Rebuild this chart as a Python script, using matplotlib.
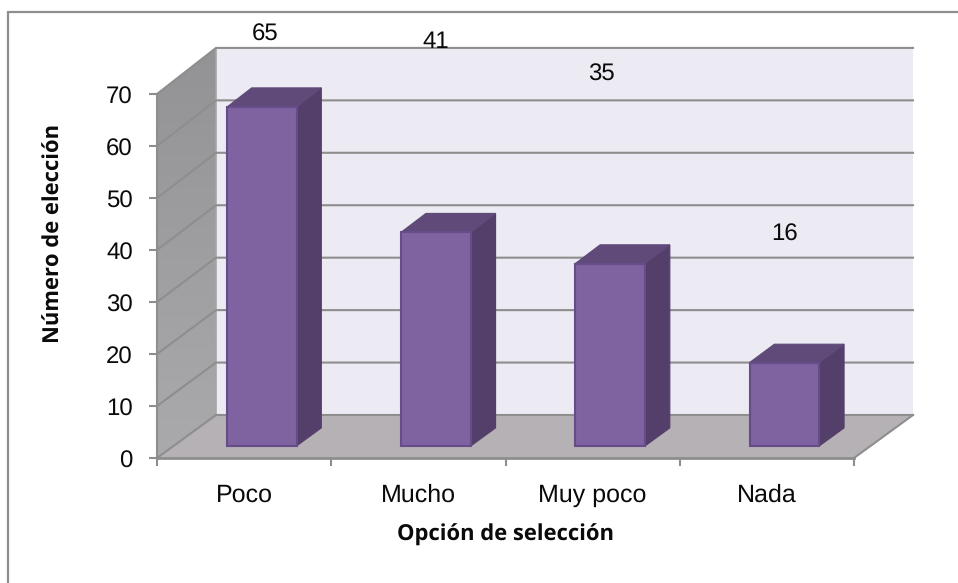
import matplotlib
matplotlib.use('Agg')
import matplotlib.pyplot as plt
import numpy as np
from matplotlib.colors import LinearSegmentedColormap
from matplotlib.patches import Polygon
from matplotlib.lines import Line2D
from matplotlib.transforms import ScaledTranslation

plt.rcParams['text.hinting'] = 'none'
plt.rcParams['text.hinting_factor'] = 1

categories = ['Poco', 'Mucho', 'Muy poco', 'Nada']
values = [65, 41, 35, 16]
y_ticks = [0, 10, 20, 30, 40, 50, 60, 70]

W, H = 958, 583

# Front plane of the 3D box, in pixels from the top left
LEFT, RIGHT, TOP, BOTTOM = 157, 854, 94, 458
DEPTH_X, DEPTH_Y = 59, 43
BACK_SCALE = 1.0085  # the back wall is a bit taller than the front plane
BAR_W = 0.4
BAR_D0, BAR_D1 = 0.28, 0.70
BAR_SHIFT = 0.006

C_BACK = '#ECEAF2'
C_FLOOR = '#B5B1B5'
C_GRID = '#8E8E8E'
C_FRONT = '#7F62A0'
C_EDGE = '#664C88'
C_TOP = '#5F4A7A'
C_SIDE = '#533F69'
C_TEXT = '#0A0A0A'

# label shift from the top of each bar, in pixels (the original labels float)
label_dx = [21, 17, 9, 18]
label_dy = [85, 203, 201, 140]

fig = plt.figure(figsize=(W / 100, H / 100), dpi=100)
ax = fig.add_axes([LEFT / W, 1 - BOTTOM / H, (RIGHT - LEFT) / W, (BOTTOM - TOP) / H])
n = len(categories)
ymax = y_ticks[-1]
ax.patch.set_visible(False)
for s in ax.spines.values():
    s.set_visible(False)

dx = DEPTH_X / ((RIGHT - LEFT) / n)
dy = DEPTH_Y / ((BOTTOM - TOP) / ymax)


def proj(x, y, d):
    return (x + d * dx, y * (1 + d * (BACK_SCALE - 1)) + d * dy)


def face(points, **kw):
    p = Polygon([proj(*q) for q in points], closed=True, clip_on=False, **kw)
    ax.add_patch(p)
    return p


# Walls and floor
face([(0, 0, 1), (n, 0, 1), (n, ymax, 1), (0, ymax, 1)], fc=C_BACK, ec='none', zorder=1)
wall = face([(0, 0, 0), (0, 0, 1), (0, ymax, 1), (0, ymax, 0)], fc='none', ec='none', zorder=1)
wall_cmap = LinearSegmentedColormap.from_list('wall', ['#AAA9AB', '#939295'])
top_x, top_y = proj(0, ymax, 1)
img = ax.imshow(np.linspace(1, 0, 64).reshape(-1, 1), cmap=wall_cmap, aspect='auto',
                extent=(0, top_x, 0, top_y), zorder=1)
img.set_clip_box(fig.bbox)
img.set_clip_path(wall)
face([(0, 0, 0), (n, 0, 0), (n, 0, 1), (0, 0, 1)], fc=C_FLOOR, ec='none', zorder=2)

ax.set_xlim(0, n)
ax.set_ylim(0, ymax)

# Gridlines on the left wall and the back wall
for t in y_ticks:
    x0, y0 = proj(0, t, 0)
    x1, y1 = proj(0, t, 1)
    x2, y2 = proj(n, t, 1)
    ax.plot([x0, x1, x2], [y0, y1, y2], color=C_GRID, lw=1.5, clip_on=False, zorder=2.5,
            solid_joinstyle='miter')

# Floor edges and the axis lines
x1, y1 = proj(n, 0, 1)
ax.plot([n, x1], [0, y1], color=C_GRID, lw=1.5, clip_on=False, zorder=3)
ax.plot([0, n], [0, 0], color=C_GRID, lw=2, clip_on=False, zorder=3)
ax.plot([0, 0], [0, ymax], color=C_GRID, lw=1.5, clip_on=False, zorder=3)
x1, y1 = proj(0, 0, 1)
x2, y2 = proj(0, ymax, 1)
ax.plot([x1, x2], [y1, y2], color='#A6A6A6', lw=1.2, clip_on=False, zorder=2.4)

# Bars
for i, v in enumerate(values):
    xa = i + 0.5 - BAR_W / 2 + BAR_SHIFT
    xb = i + 0.5 + BAR_W / 2 + BAR_SHIFT
    face([(xb, 0, BAR_D0), (xb, 0, BAR_D1), (xb, v, BAR_D1), (xb, v, BAR_D0)],
         fc=C_SIDE, ec=C_SIDE, lw=0.8, zorder=4)
    face([(xa, v, BAR_D0), (xb, v, BAR_D0), (xb, v, BAR_D1), (xa, v, BAR_D1)],
         fc=C_TOP, ec=C_TOP, lw=0.8, zorder=4)
    face([(xa, 0, BAR_D0), (xb, 0, BAR_D0), (xb, v, BAR_D0), (xa, v, BAR_D0)],
         fc=C_FRONT, ec=C_EDGE, lw=1.5, zorder=5)
    # Data label
    ax.annotate(str(v), xy=(i + 0.5, v), xytext=(label_dx[i] * 0.72, label_dy[i] * 0.72),
                textcoords='offset points', ha='center', va='center',
                family='Liberation Sans', fontsize=17, color=C_TEXT, annotation_clip=False, zorder=6)

# Ticks
ax.set_xticks(range(n + 1))
ax.set_xticklabels([])
ax.set_yticks(y_ticks)
ax.tick_params(axis='both', length=6, width=1.5, color=C_GRID, pad=11.5,
               labelsize=17.5, labelcolor=C_TEXT)
label_down = ScaledTranslation(0, -1.5 / 100, fig.dpi_scale_trans)
for lab in ax.get_yticklabels():
    lab.set_family('Liberation Sans')
    lab.set_transform(lab.get_transform() + label_down)
for i, c in enumerate(categories):
    ax.annotate(c, xy=(i + 0.5, 0), xytext=(0, -27), textcoords='offset points',
                ha='center', va='center', family='Liberation Sans', fontsize=18, color=C_TEXT,
                annotation_clip=False)

# Axis titles
fig.text(505 / W, 1 - 535 / H, 'Opción de selección', ha='center', va='center',
         family='Open Sans', fontweight='bold', fontsize=15.7, color=C_TEXT)
fig.text(54 / W, 1 - 233 / H, 'Número de elección', ha='center', va='center', rotation=90,
         family='Open Sans', fontweight='bold', fontsize=15.8, color=C_TEXT)

# Outer frame, only the top and the left show
fig.add_artist(Line2D([8 / W, 8 / W, 1], [0, 1 - 12 / H, 1 - 12 / H], color=C_GRID, lw=1.6,
                      solid_joinstyle='miter'))

fig.savefig('out.png', dpi=100)
